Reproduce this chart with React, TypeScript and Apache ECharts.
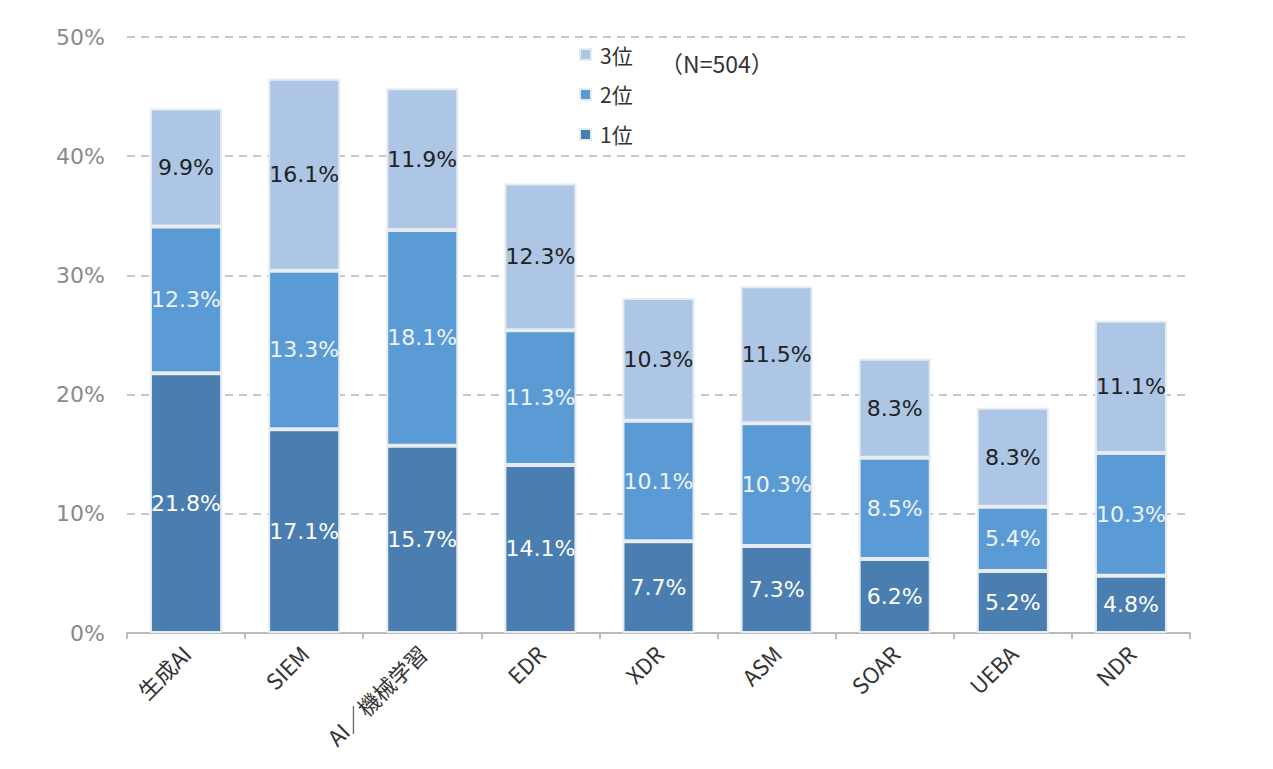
import React, { useEffect, useRef } from "react";
import * as echarts from "echarts";

const categories = ["生成AI", "SIEM", "AI／機械学習", "EDR", "XDR", "ASM", "SOAR", "UEBA", "NDR"];
const rank1 = [21.8, 17.1, 15.7, 14.1, 7.7, 7.3, 6.2, 5.2, 4.8];
const rank2 = [12.3, 13.3, 18.1, 11.3, 10.1, 10.3, 8.5, 5.4, 10.3];
const rank3 = [9.9, 16.1, 11.9, 12.3, 10.3, 11.5, 8.3, 8.3, 11.1];
const yTicks = [0, 10, 20, 30, 40, 50];

const FONT = "'DejaVu Sans', Verdana, sans-serif";
const JP = "'Noto Sans CJK JP', 'Noto Sans', sans-serif";

export default function App() {
  const ref = useRef<HTMLDivElement>(null);
  useEffect(() => {
    if (!ref.current) return;
    const chart = echarts.init(ref.current, undefined, { renderer: "svg" });
    const mk = (name: string, data: number[], color: string, labelColor: string) => ({
      name,
      type: "bar",
      stack: "total",
      data,
      barWidth: "61%",
      itemStyle: { color, borderColor: "#e6ebf0", borderWidth: 2 },
      label: {
        show: true,
        position: "inside",
        formatter: (p: any) => p.value.toFixed(1) + "%",
        color: labelColor,
        fontSize: 22,
        fontFamily: FONT,
      },
    });
    chart.setOption({
      animation: false,
      textStyle: { fontFamily: FONT },
      grid: { left: 119, right: 75, top: 29, bottom: 128 },
      legend: {
        data: ["3位", "2位", "1位"],
        orient: "vertical",
        left: 566,
        top: 31,
        itemGap: 19,
        itemWidth: 11,
        itemHeight: 11,
        icon: "rect",
        textStyle: { fontSize: 21, color: "#333", fontFamily: JP, padding: [0, 0, 0, 4] },
      },
      graphic: [
        {
          type: "text",
          left: 652,
          top: 43,
          style: { text: "（N=504）", fontSize: 23, fill: "#333", fontFamily: JP },
        },
      ],
      xAxis: {
        type: "category",
        data: categories,
        axisLine: { lineStyle: { color: "#bbbbbb", width: 2 } },
        axisTick: { show: true, length: 6, lineStyle: { color: "#bbbbbb", width: 2 } },
        axisLabel: {
          rotate: 45,
          fontSize: 22,
          color: "#333",
          margin: 16,
          interval: 0,
          fontFamily: JP,
        },
      },
      yAxis: {
        type: "value",
        min: yTicks[0],
        max: yTicks[yTicks.length - 1],
        interval: 10,
        axisLine: { show: false },
        axisTick: { show: false },
        axisLabel: {
          formatter: "{value}%",
          fontSize: 22,
          color: "#8a8a8a",
          margin: 22,
          fontFamily: FONT,
        },
        splitLine: { lineStyle: { color: "#c8c8c8", type: [8, 6], width: 2 } },
      },
      series: [
        mk("1位", rank1, "#4a7eb0", "#ffffff"),
        mk("2位", rank2, "#5b9bd5", "#eef3fa"),
        mk("3位", rank3, "#adc6e6", "#222222"),
      ],
    });
    return () => chart.dispose();
  }, []);
  return <div ref={ref} style={{ width: 1257, height: 753 }} />;
}
